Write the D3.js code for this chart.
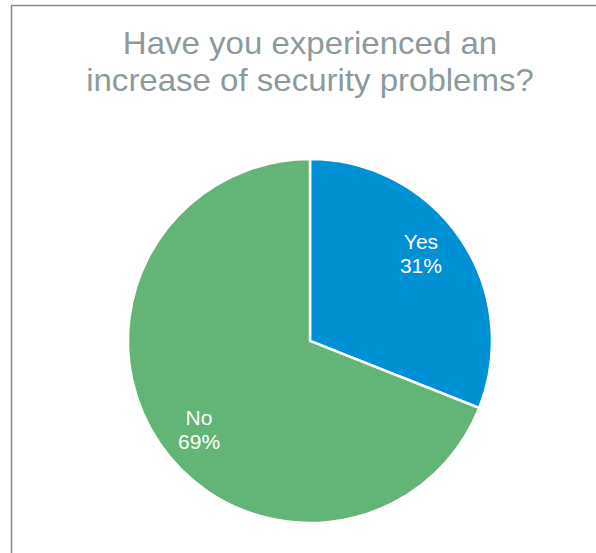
<!DOCTYPE html>
<html>
<head>
<meta charset="utf-8">
<script src="https://cdn.jsdelivr.net/npm/d3@7"></script>
<style>
  body { margin: 0; background: #fff; }
  svg { display: block; font-family: "Liberation Sans", Arial, sans-serif; }
</style>
</head>
<body>
<svg id="chart" width="596" height="553"></svg>
<script>
// data
var categories = ["Yes", "No"];
var values = [31, 69];
var colors = ["#0090D4", "#63B577"];
var titleLines = ["Have you experienced an", "increase of security problems?"];

var width = 596, height = 553;
var cx = 310, cy = 341, radius = 182;

var svg = d3.select("#chart");

// frame (left + top edge)
svg.append("path")
    .attr("d", "M11.5,553 L11.5,5.5 L596,5.5")
    .attr("fill", "none")
    .attr("stroke", "#7F8C8D")
    .attr("stroke-width", 1.5);

// title (slightly wide glyphs, like the original)
svg.append("g")
    .attr("transform", "translate(310,0) scale(1.065,1)")
  .append("text")
    .attr("x", 0)
    .attr("y", 54)
    .attr("text-anchor", "middle")
    .style("font-size", "31px")
    .style("fill", "#8D9A9C")
    .selectAll("tspan")
    .data(titleLines)
    .enter().append("tspan")
    .attr("x", 0)
    .attr("dy", (d, i) => i === 0 ? 0 : 37)
    .text(d => d);

var data = categories.map((c, i) => ({ label: c, value: values[i], color: colors[i] }));

var pie = d3.pie().sort(null).value(d => d.value);
var arc = d3.arc().innerRadius(0).outerRadius(radius);
var labelArc = d3.arc().innerRadius(radius * 0.78).outerRadius(radius * 0.78);

var g = svg.append("g")
    .attr("transform", "translate(" + cx + "," + cy + ")");

var arcs = pie(data);

g.selectAll(".slice")
    .data(arcs)
    .enter().append("path")
    .attr("class", "slice")
    .attr("d", arc)
    .style("fill", d => d.data.color)
    .style("stroke", "#fff")
    .style("stroke-width", 2.5);

var labels = g.selectAll(".label")
    .data(arcs)
    .enter().append("text")
    .attr("class", "label")
    .attr("text-anchor", "middle")
    .attr("transform", d => {
        var c = labelArc.centroid(d);
        return "translate(" + (c[0] * 0.945) + "," + (c[1] * 1.1) + ")";
    })
    .style("font-size", "21px")
    .style("fill", "#fff");

labels.append("tspan")
    .attr("x", 0)
    .attr("y", -4)
    .text(d => d.data.label);
labels.append("tspan")
    .attr("x", 0)
    .attr("y", 20)
    .text(d => d.data.value + "%");
</script>
</body>
</html>
